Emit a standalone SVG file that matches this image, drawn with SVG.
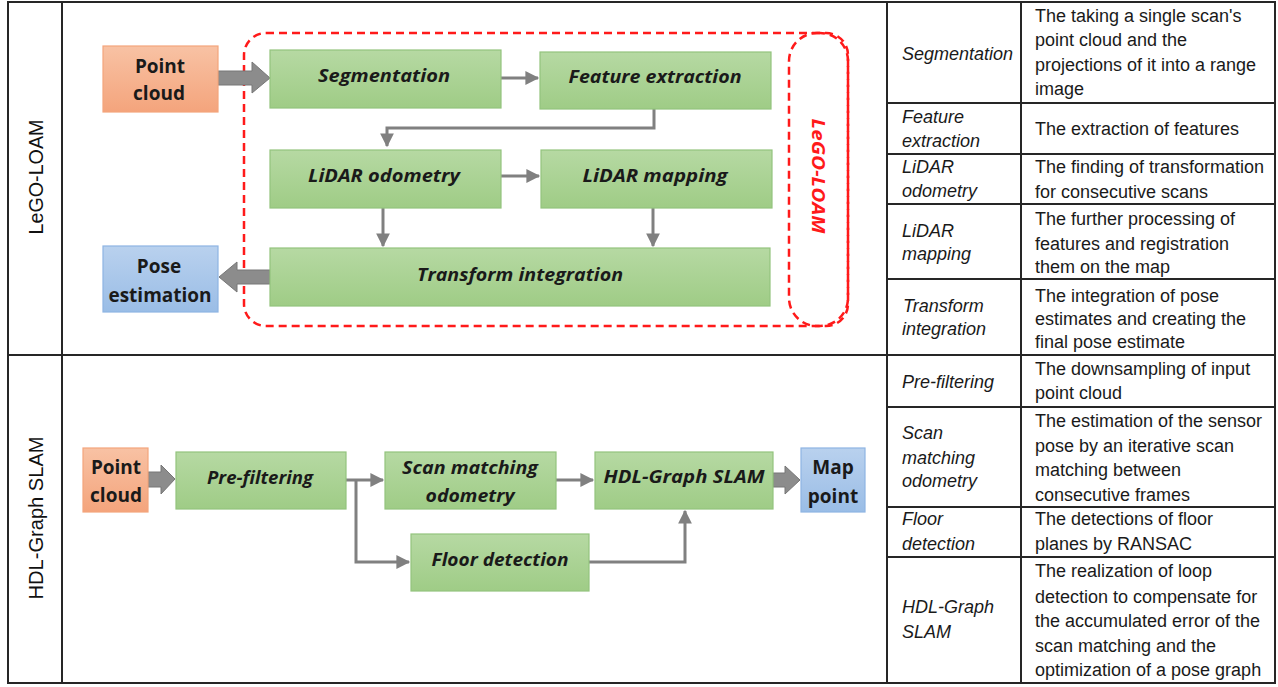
<svg xmlns="http://www.w3.org/2000/svg" width="1278" height="687" viewBox="0 0 1278 687">
<style>
.tbl{fill:none;stroke:#262626;stroke-width:2}
.g{fill:url(#gGreen);stroke:#93c47d;stroke-width:1.2}
.o{fill:url(#gOrange);stroke:#f4a57c;stroke-width:1.2}
.b{fill:url(#gBlue);stroke:#8eb4e3;stroke-width:1.2}
.lbl{font-family:"Open Sans","Liberation Sans",sans-serif;font-weight:bold;font-style:italic;font-size:18px;fill:#1a1a1a;text-anchor:middle}
.io{font-family:"Open Sans","Liberation Sans",sans-serif;font-weight:bold;font-size:19px;fill:#1a1a1a;text-anchor:middle}
.side{font-family:"Liberation Sans",Arial,sans-serif;font-size:20px;fill:#111;text-anchor:middle;dominant-baseline:central}
.red{font-family:"Open Sans","Liberation Sans",sans-serif;font-weight:bold;font-style:italic;font-size:17px;fill:#ff1a1a;text-anchor:middle;dominant-baseline:central}
.c1{font-family:"Liberation Sans",Arial,sans-serif;font-style:italic;font-size:18px;fill:#1a1a1a}
.c2{font-family:"Liberation Sans",Arial,sans-serif;font-size:18px;fill:#1a1a1a}
.ln{fill:none;stroke:#808080;stroke-width:3}
.big{fill:#8c8c8c;stroke:#767676;stroke-width:1}
.dash{fill:none;stroke:#ff1a1a;stroke-width:2.5;stroke-dasharray:8,5}
</style>
<defs>
<linearGradient id="gGreen" x1="0" y1="0" x2="0" y2="1"><stop offset="0" stop-color="#b6d9a3"/><stop offset="1" stop-color="#9fcc86"/></linearGradient>
<linearGradient id="gOrange" x1="0" y1="0" x2="0" y2="1"><stop offset="0" stop-color="#f8c2a4"/><stop offset="1" stop-color="#f4a47c"/></linearGradient>
<linearGradient id="gBlue" x1="0" y1="0" x2="0" y2="1"><stop offset="0" stop-color="#b9d1ee"/><stop offset="1" stop-color="#9abde6"/></linearGradient>
<marker id="ah" markerWidth="5" markerHeight="5" refX="4.2" refY="2.5" orient="auto" markerUnits="strokeWidth"><path d="M0,0.2 L4.6,2.5 L0,4.8 z" fill="#808080"/></marker>
</defs>
<rect width="1278" height="687" fill="#fff"/>

<g id="tables">
<rect class="tbl" x="8" y="2" width="879" height="681"/>
<line class="tbl" x1="62" y1="2" x2="62" y2="683"/>
<line class="tbl" x1="8" y1="355" x2="887" y2="355"/>
<rect class="tbl" x="887" y="2" width="388" height="681"/>
<line class="tbl" x1="1021" y1="2" x2="1021" y2="683"/>
<line class="tbl" x1="887" y1="103" x2="1275" y2="103"/>
<line class="tbl" x1="887" y1="154" x2="1275" y2="154"/>
<line class="tbl" x1="887" y1="204" x2="1275" y2="204"/>
<line class="tbl" x1="887" y1="279" x2="1275" y2="279"/>
<line class="tbl" x1="887" y1="355" x2="1275" y2="355"/>
<line class="tbl" x1="887" y1="407" x2="1275" y2="407"/>
<line class="tbl" x1="887" y1="507" x2="1275" y2="507"/>
<line class="tbl" x1="887" y1="557" x2="1275" y2="557"/>
<text class="side" transform="translate(36,177) rotate(-90)" textLength="115" lengthAdjust="spacingAndGlyphs">LeGO-LOAM</text>
<text class="side" transform="translate(36,518) rotate(-90)" textLength="163" lengthAdjust="spacingAndGlyphs">HDL-Graph SLAM</text>
</g>

<g id="legend-text">
<text class="c1" x="902" y="60">Segmentation</text>
<text class="c2" x="1035" y="22">The taking a single scan's</text>
<text class="c2" x="1035" y="46">point cloud and the</text>
<text class="c2" x="1035" y="71">projections of it into a range</text>
<text class="c2" x="1035" y="95">image</text>
<text class="c1" x="902" y="123">Feature</text>
<text class="c1" x="902" y="147">extraction</text>
<text class="c2" x="1035" y="135">The extraction of features</text>
<text class="c1" x="902" y="173">LiDAR</text>
<text class="c1" x="902" y="197">odometry</text>
<text class="c2" x="1035" y="173">The finding of transformation</text>
<text class="c2" x="1035" y="198">for consecutive scans</text>
<text class="c1" x="902" y="237">LiDAR</text>
<text class="c1" x="902" y="260">mapping</text>
<text class="c2" x="1035" y="225">The further processing of</text>
<text class="c2" x="1035" y="250">features and registration</text>
<text class="c2" x="1035" y="273">them on the map</text>
<text class="c1" x="903" y="312">Transform</text>
<text class="c1" x="902" y="335">integration</text>
<text class="c2" x="1035" y="302">The integration of pose</text>
<text class="c2" x="1035" y="325">estimates and creating the</text>
<text class="c2" x="1035" y="348">final pose estimate</text>
<text class="c1" x="902" y="388">Pre-filtering</text>
<text class="c2" x="1035" y="375">The downsampling of input</text>
<text class="c2" x="1035" y="399">point cloud</text>
<text class="c1" x="902" y="439">Scan</text>
<text class="c1" x="902" y="464">matching</text>
<text class="c1" x="902" y="487">odometry</text>
<text class="c2" x="1035" y="427">The estimation of the sensor</text>
<text class="c2" x="1035" y="452">pose by an iterative scan</text>
<text class="c2" x="1035" y="476">matching between</text>
<text class="c2" x="1035" y="501">consecutive frames</text>
<text class="c1" x="902" y="525">Floor</text>
<text class="c1" x="902" y="550">detection</text>
<text class="c2" x="1035" y="525">The detections of floor</text>
<text class="c2" x="1035" y="550">planes by RANSAC</text>
<text class="c1" x="902" y="613">HDL-Graph</text>
<text class="c1" x="902" y="638">SLAM</text>
<text class="c2" x="1035" y="577">The realization of loop</text>
<text class="c2" x="1035" y="603">detection to compensate for</text>
<text class="c2" x="1035" y="627">the accumulated error of the</text>
<text class="c2" x="1035" y="652">scan matching and the</text>
<text class="c2" x="1035" y="676">optimization of a pose graph</text>
</g>

<g id="lego-group">
<rect class="dash" x="244" y="33" width="604" height="293" rx="22"/>
<rect class="dash" x="789" y="33" width="59" height="293" rx="28"/>
<text class="red" transform="translate(818,176) rotate(90)" textLength="115" lengthAdjust="spacingAndGlyphs">LeGO-LOAM</text>
</g>

<g id="connectors">
<polygon class="big" points="218,71 252,71 252,62 270,78 252,93 252,85 218,85"/>
<polygon class="big" points="270,270 237,270 237,262 219,277 237,292 237,284 270,284"/>
<polygon class="big" points="148,472 161,472 161,465 175,479 161,494 161,487 148,487"/>
<polygon class="big" points="773,473 785,473 785,466 800,480 785,494 785,487 773,487"/>
<path class="ln" d="M501,78 H538" marker-end="url(#ah)"/>
<path class="ln" d="M654,109 V128 H387 V146" marker-end="url(#ah)"/>
<path class="ln" d="M501,176 H539" marker-end="url(#ah)"/>
<path class="ln" d="M383,208 V246" marker-end="url(#ah)"/>
<path class="ln" d="M653,208 V246" marker-end="url(#ah)"/>
<path class="ln" d="M346,480 H383" marker-end="url(#ah)"/>
<path class="ln" d="M356,480 V562 H409" marker-end="url(#ah)"/>
<path class="ln" d="M556,480 H593" marker-end="url(#ah)"/>
<path class="ln" d="M589,562 H685 V511" marker-end="url(#ah)"/>
</g>

<g id="n-pc1"><rect class="o" x="103" y="46" width="115" height="66"/><text class="io" x="160" y="73">Point</text><text class="io" x="159" y="100">cloud</text></g>
<g id="n-seg"><rect class="g" x="270" y="50" width="231" height="58"/><text class="lbl" x="384" y="82" textLength="132" lengthAdjust="spacingAndGlyphs">Segmentation</text></g>
<g id="n-feat"><rect class="g" x="540" y="52" width="231" height="57"/><text class="lbl" x="655" y="83" textLength="173" lengthAdjust="spacingAndGlyphs">Feature extraction</text></g>
<g id="n-odom"><rect class="g" x="270" y="150" width="231" height="58"/><text class="lbl" x="384" y="182" textLength="152" lengthAdjust="spacingAndGlyphs">LiDAR odometry</text></g>
<g id="n-map"><rect class="g" x="541" y="150" width="231" height="58"/><text class="lbl" x="655" y="182" textLength="145" lengthAdjust="spacingAndGlyphs">LiDAR mapping</text></g>
<g id="n-trans"><rect class="g" x="270" y="248" width="500" height="58"/><text class="lbl" x="520" y="281" textLength="206" lengthAdjust="spacingAndGlyphs">Transform integration</text></g>
<g id="n-pose"><rect class="b" x="103" y="246" width="115" height="66"/><text class="io" x="159" y="273">Pose</text><text class="io" x="160" y="302">estimation</text></g>

<g id="n-pc2"><rect class="o" x="83" y="448" width="65" height="64"/><text class="io" x="116" y="474">Point</text><text class="io" x="116" y="502">cloud</text></g>
<g id="n-pref"><rect class="g" x="176" y="452" width="170" height="57"/><text class="lbl" x="260" y="484" textLength="106" lengthAdjust="spacingAndGlyphs">Pre-filtering</text></g>
<g id="n-scan"><rect class="g" x="385" y="452" width="171" height="57"/><text class="lbl" x="470" y="474" textLength="136" lengthAdjust="spacingAndGlyphs">Scan matching</text><text class="lbl" x="470" y="502" textLength="89" lengthAdjust="spacingAndGlyphs">odometry</text></g>
<g id="n-floor"><rect class="g" x="411" y="534" width="178" height="57"/><text class="lbl" x="500" y="566" textLength="137" lengthAdjust="spacingAndGlyphs">Floor detection</text></g>
<g id="n-hdl"><rect class="g" x="595" y="452" width="178" height="57"/><text class="lbl" x="684" y="483" textLength="161" lengthAdjust="spacingAndGlyphs">HDL-Graph SLAM</text></g>
<g id="n-mappt"><rect class="b" x="801" y="448" width="64" height="64"/><text class="io" x="833" y="474">Map</text><text class="io" x="833" y="503">point</text></g>
</svg>
